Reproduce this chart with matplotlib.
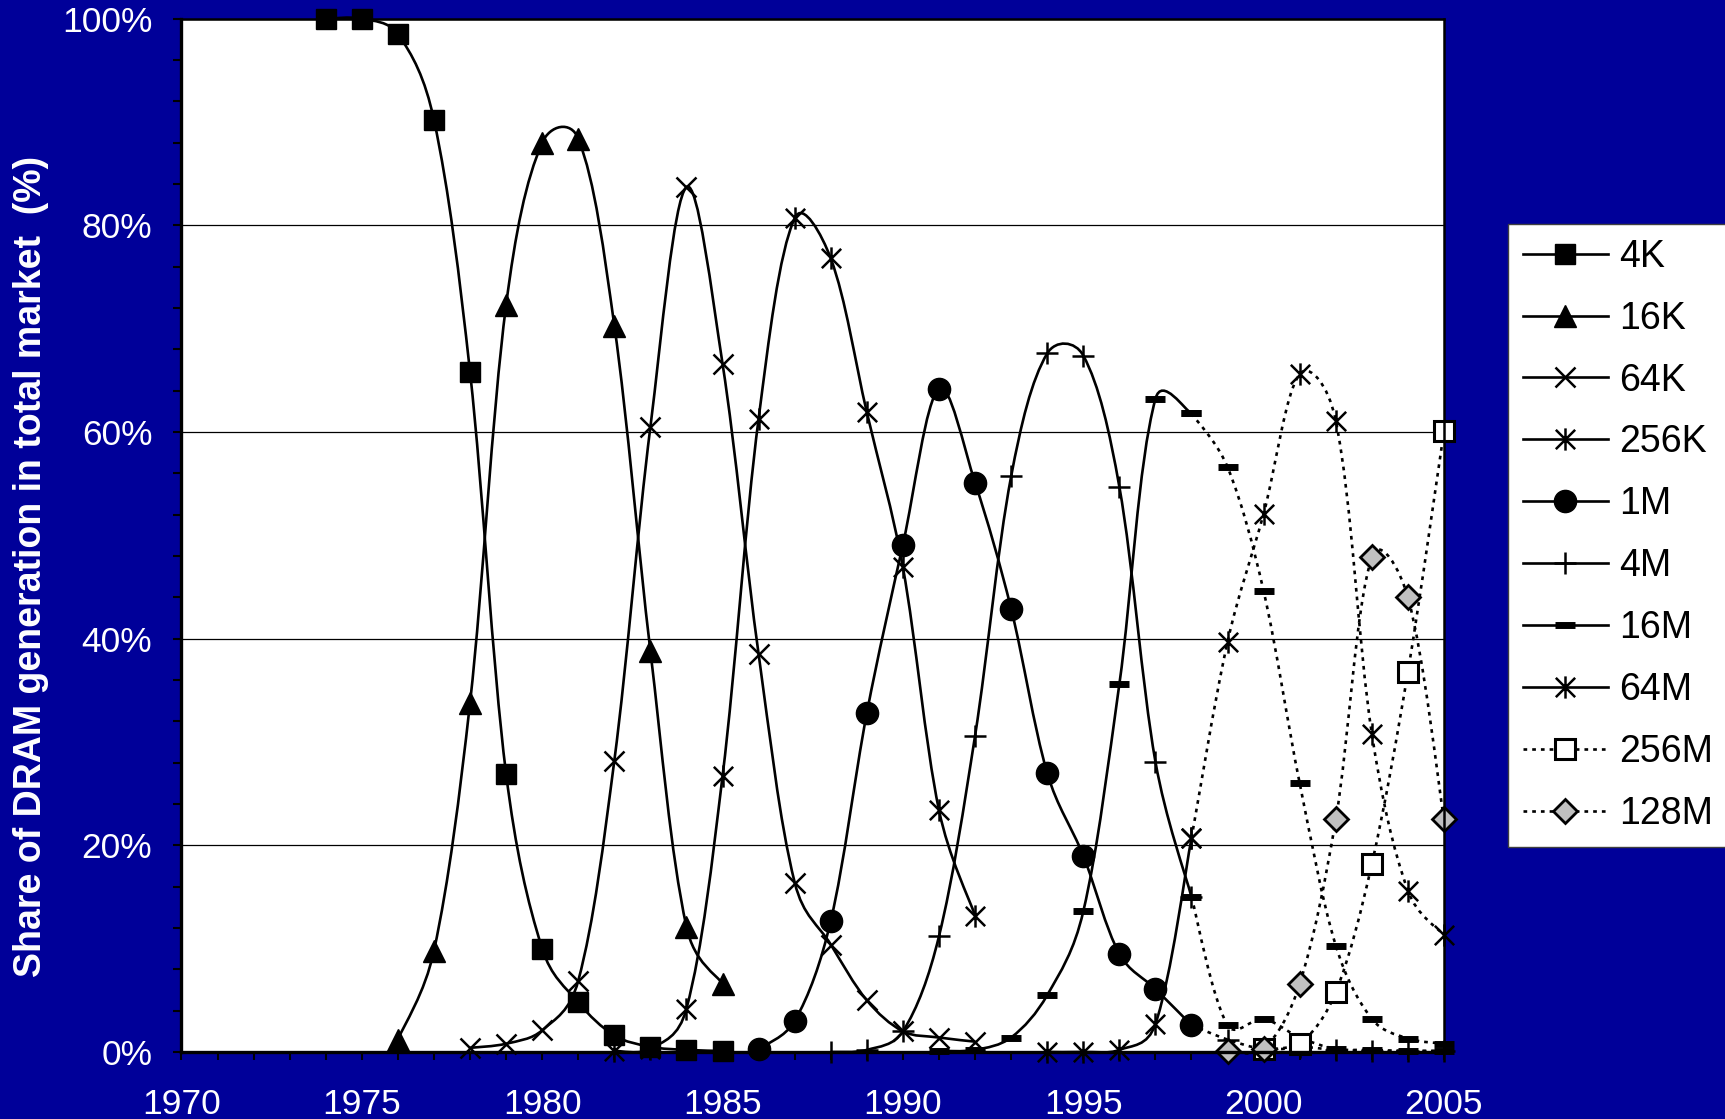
import numpy as np
import matplotlib
matplotlib.use("Agg")
import matplotlib.pyplot as plt
from matplotlib.path import Path
from matplotlib.patches import PathPatch
from matplotlib.lines import Line2D
from matplotlib.ticker import MultipleLocator, FixedLocator

# ---------------- data (share of DRAM generation, %) ----------------
years_4k = [1974, 1975, 1976, 1977, 1978, 1979, 1980, 1981, 1982, 1983, 1984, 1985]
share_4k = [100, 100, 98.5, 90.2, 65.8, 26.9, 10.0, 4.8, 1.6, 0.5, 0.2, 0.1]

years_16k = [1976, 1977, 1978, 1979, 1980, 1981, 1982, 1983, 1984, 1985]
share_16k = [1.2, 9.8, 33.8, 72.3, 88.0, 88.4, 70.3, 38.8, 12.1, 6.6]

years_64k = [1978, 1979, 1980, 1981, 1982, 1983, 1984, 1985, 1986, 1987, 1988, 1989, 1990, 1991, 1992]
share_64k = [0.4, 0.8, 2.1, 6.9, 28.2, 60.5, 83.7, 66.6, 38.5, 16.4, 10.4, 5.0, 2.0, 1.4, 1.0]

years_256k = [1982, 1983, 1984, 1985, 1986, 1987, 1988, 1989, 1990, 1991, 1992]
share_256k = [0.1, 0.3, 4.2, 26.7, 61.3, 80.7, 76.8, 61.9, 46.9, 23.4, 13.2]

years_1m = [1986, 1987, 1988, 1989, 1990, 1991, 1992, 1993, 1994, 1995, 1996, 1997, 1998]
share_1m = [0.3, 3.0, 12.7, 32.8, 49.1, 64.2, 55.1, 42.9, 27.0, 19.0, 9.5, 6.1, 2.6]

years_4m = [1988, 1989, 1990, 1991, 1992, 1993, 1994, 1995, 1996, 1997, 1998]
share_4m = [0.0, 0.2, 2.0, 11.2, 30.6, 55.7, 67.6, 67.4, 54.7, 28.1, 15.0]

years_16m = [1991, 1992, 1993, 1994, 1995, 1996, 1997, 1998]
share_16m = [0.1, 0.2, 1.4, 5.5, 13.6, 35.6, 63.2, 61.8]

years_64m = [1994, 1995, 1996, 1997, 1998]
share_64m = [0.0, 0.0, 0.2, 2.7, 20.7]

# forecast part (dotted)
years_fc = [1998, 1999, 2000, 2001, 2002, 2003, 2004, 2005]
fc_1m = [2.6, 1.2, 0.3, 0.5, 0.2, 0.1, 0.1, 0.1]
fc_4m = [15.0, 2.6, 3.2, 1.4, 0.3, 0.2, 0.1, 0.1]
fc_16m = [61.8, 56.6, 44.6, 26.0, 10.3, 3.2, 1.3, 0.8]
fc_64m = [20.7, 39.7, 52.1, 65.6, 61.1, 30.8, 15.6, 11.3]

years_256m = [2000, 2001, 2002, 2003, 2004, 2005]
share_256m = [0.3, 0.8, 5.8, 18.2, 36.8, 60.1]

years_128m = [1999, 2000, 2001, 2002, 2003, 2004, 2005]
share_128m = [0.1, 0.3, 6.6, 22.5, 47.9, 44.0, 22.5]

labels = ["4K", "16K", "64K", "256K", "1M", "4M", "16M", "64M", "256M", "128M"]
x_ticks = [1970, 1975, 1980, 1985, 1990, 1995, 2000, 2005]
y_ticks = [0, 20, 40, 60, 80, 100]

# ---------------- styling ----------------
NAVY = "#000099"
plt.rcParams["font.family"] = ["Liberation Sans", "DejaVu Sans"]

asterisk = Path([(-1, -1), (1, 1), (-1, 1), (1, -1), (0, -1.15), (0, 1.15)],
                [Path.MOVETO, Path.LINETO, Path.MOVETO, Path.LINETO, Path.MOVETO, Path.LINETO])

LW = 1.9
SOLID = "-"
DOT = (0, (1.4, 1.9))

styles = {
    "4K": dict(marker="s", ms=15, mfc="black", mec="black", mew=1),
    "16K": dict(marker="^", ms=16, mfc="black", mec="black", mew=1),
    "64K": dict(marker="x", ms=14, mfc="none", mec="black", mew=1.8),
    "256K": dict(marker=asterisk, ms=16, mfc="none", mec="black", mew=1.8),
    "1M": dict(marker="o", ms=16, mfc="black", mec="black", mew=1),
    "4M": dict(marker="+", ms=16, mfc="none", mec="black", mew=1.8),
    "16M": dict(marker="_", ms=15, mfc="none", mec="black", mew=5),
    "64M": dict(marker=asterisk, ms=16, mfc="none", mec="black", mew=1.8),
    "256M": dict(marker="s", ms=15, mfc="white", mec="black", mew=2.2),
    "128M": dict(marker="D", ms=12, mfc="#c0c0c0", mec="black", mew=2.0),
}

FIG_W, FIG_H = 17.25, 11.19
AX_RECT = [0.1052, 0.0599, 0.7319, 0.9234]
XLIM, YLIM = (1970, 2005), (0, 100)
# screen pixels per data unit (used to weight the smoothing like Excel does)
SX = FIG_W * 100 * AX_RECT[2] / (XLIM[1] - XLIM[0])
SY = FIG_H * 100 * AX_RECT[3] / (YLIM[1] - YLIM[0])


def smooth_path(xs, ys):
    pts = np.column_stack([xs, ys]).astype(float)
    n = len(pts)
    scr = pts * np.array([SX, SY])

    def d(a, b):
        return max(np.hypot(*(scr[a] - scr[b])), 1e-9)

    verts = [pts[0]]
    codes = [Path.MOVETO]
    for i in range(n - 1):
        i0 = i - 1 if i > 0 else i
        i3 = i + 2 if i + 2 < n else i + 1
        p0, p1, p2, p3 = pts[i0], pts[i], pts[i + 1], pts[i3]
        f1 = np.sqrt(d(i, i + 1))
        f0 = np.sqrt(d(i0, i)) if i0 != i else f1
        f2 = np.sqrt(d(i3, i + 1)) if i3 != i + 1 else f1
        k1 = 2 * f1 / (f0 + f1)
        k2 = 2 * f1 / (f1 + f2)
        c1 = p1 + (p2 - p0) / 6.0 * k1
        c2 = p2 - (p3 - p1) / 6.0 * k2
        verts += [c1, c2, p2]
        codes += [Path.CURVE4] * 3
    return Path(np.array(verts), codes)


fig = plt.figure(figsize=(FIG_W, FIG_H), dpi=100, facecolor=NAVY)
ax = fig.add_axes(AX_RECT)
ax.set_facecolor("white")


def draw(xs, ys, key, ls):
    patch = PathPatch(smooth_path(xs, ys), facecolor="none", edgecolor="black",
                      lw=LW, linestyle=ls, clip_on=False, zorder=2, capstyle="butt")
    ax.add_patch(patch)
    ax.plot(xs, ys, linestyle="none", clip_on=False, zorder=3, **styles[key])


draw(years_4k, share_4k, "4K", SOLID)
draw(years_16k, share_16k, "16K", SOLID)
draw(years_64k, share_64k, "64K", SOLID)
draw(years_256k, share_256k, "256K", SOLID)
draw(years_1m, share_1m, "1M", SOLID)
draw(years_4m, share_4m, "4M", SOLID)
draw(years_16m, share_16m, "16M", SOLID)
draw(years_64m, share_64m, "64M", SOLID)
draw(years_fc, fc_1m, "4M", DOT)
draw(years_fc, fc_4m, "16M", DOT)
draw(years_fc, fc_16m, "16M", DOT)
draw(years_fc, fc_64m, "64M", DOT)
draw(years_256m, share_256m, "256M", DOT)
draw(years_128m, share_128m, "128M", DOT)

ax.set_xlim(*XLIM)
ax.set_ylim(*YLIM)
ax.xaxis.set_major_locator(FixedLocator(x_ticks))
ax.xaxis.set_minor_locator(MultipleLocator(1))
ax.yaxis.set_major_locator(FixedLocator(y_ticks))
ax.yaxis.set_minor_locator(MultipleLocator(4))
ax.set_xticklabels([str(v) for v in x_ticks])
ax.set_yticklabels([f"{v}%" for v in y_ticks])
ax.grid(axis="y", which="major", color="black", lw=0.9, zorder=1)
ax.set_axisbelow(True)

ax.tick_params(axis="both", which="both", direction="out", color="black",
               labelcolor="white", labelsize=25.5, width=1.5)
ax.tick_params(axis="x", which="both", length=6, pad=20)
ax.tick_params(axis="y", which="both", length=6, pad=15)

for s in ["left", "bottom"]:
    ax.spines[s].set_linewidth(2.4)
for s in ["top", "right"]:
    ax.spines[s].set_linewidth(1.8)
for s in ax.spines.values():
    s.set_color("black")
    s.set_zorder(4)

fig.text(0.018, 0.494, "Share of DRAM generation in total market  (%)",
         rotation=90, ha="center", va="center", color="white", fontsize=27,
         fontweight="bold", family=["Liberation Sans Narrow", "Liberation Sans", "DejaVu Sans"])

handles = []
for lab in labels:
    ls = DOT if lab in ("256M", "128M") else SOLID
    handles.append(Line2D([], [], color="black", lw=LW, linestyle=ls, **styles[lab]))

leg = fig.legend(handles, labels, loc="upper left", bbox_to_anchor=(0.874, 0.800),
                 bbox_transform=fig.transFigure, fontsize=27, frameon=True,
                 fancybox=False, edgecolor="#404040", facecolor="white", framealpha=1,
                 handlelength=2.27, handletextpad=0.3, labelspacing=0.69,
                 borderpad=0.4, borderaxespad=0, markerscale=1.0)
leg.get_frame().set_linewidth(1.0)

fig.savefig("out.png", dpi=100, facecolor=NAVY)
